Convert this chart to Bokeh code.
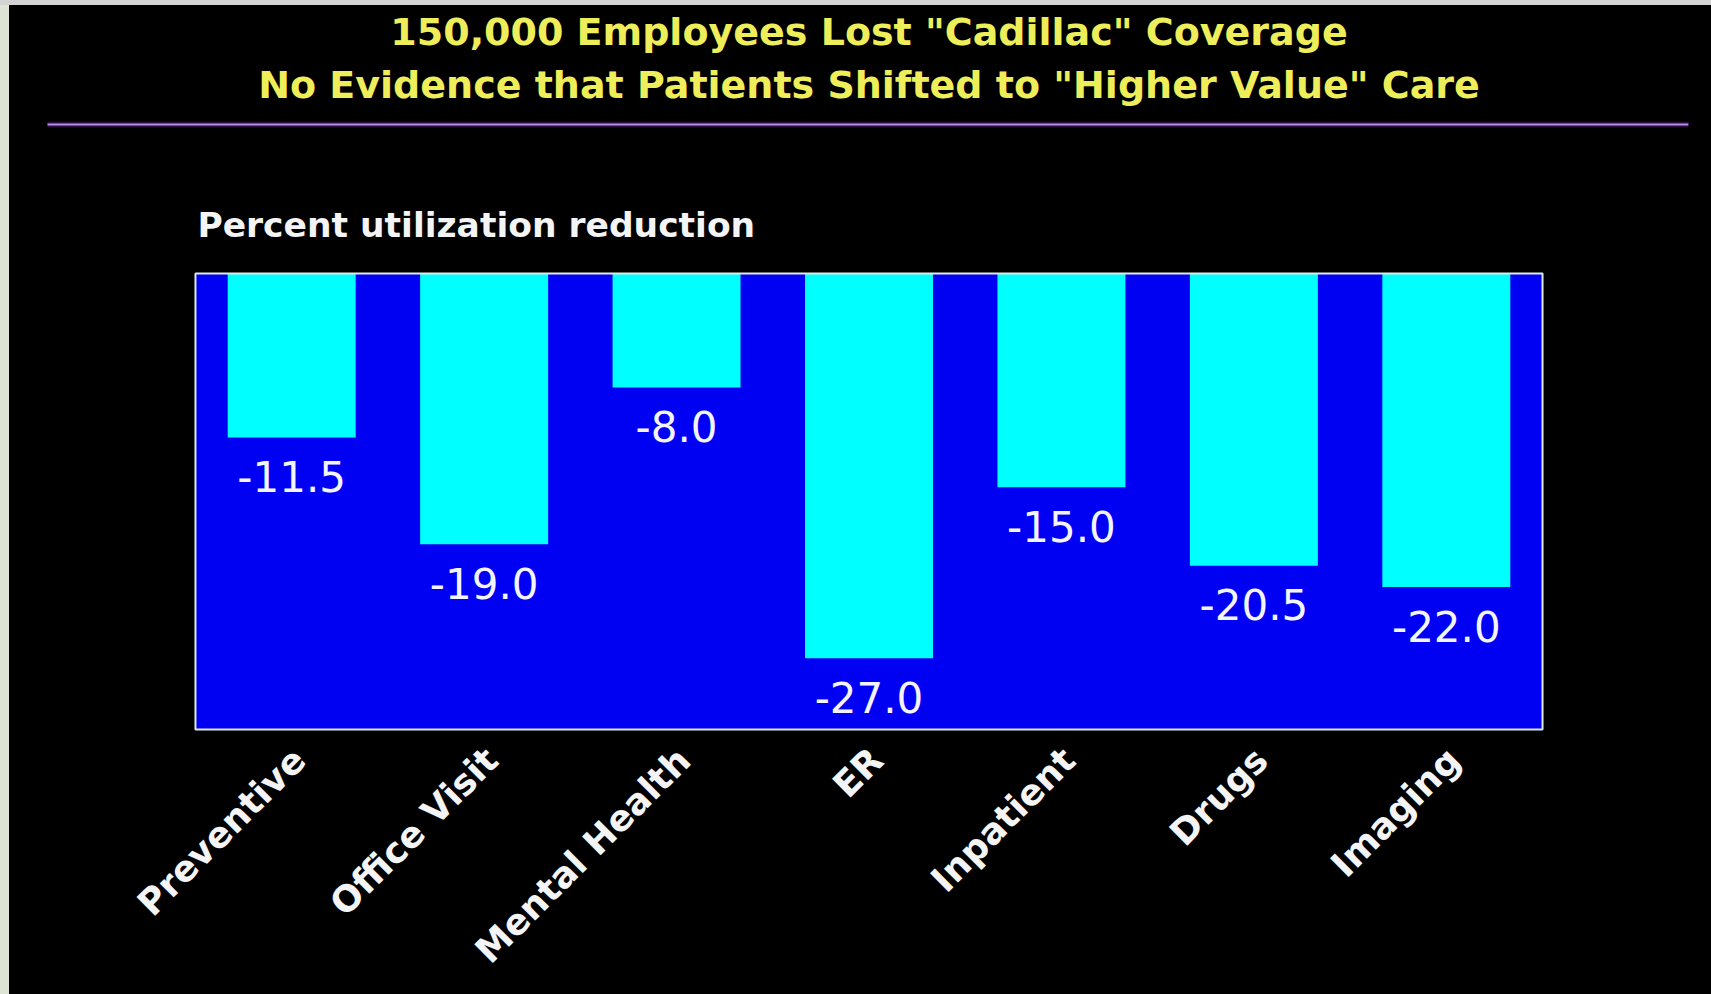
from math import pi
from bokeh.plotting import figure
from bokeh.models import FactorRange, Range1d
from bokeh.core.properties import value
from bokeh.embed import file_html
from bokeh.resources import INLINE

# ---- data ----
title_lines = ['150,000 Employees Lost "Cadillac" Coverage',
               'No Evidence that Patients Shifted to "Higher Value" Care']
subtitle = "Percent utilization reduction"
categories = ["Preventive", "Office Visit", "Mental Health", "ER",
              "Inpatient", "Drugs", "Imaging"]
reduction = [-11.5, -19.0, -8.0, -27.0, -15.0, -20.5, -22.0]
value_labels = [f"{v:.1f}" for v in reduction]
y_min, y_max = -32, 0

FONT = value("DejaVu Sans")
n = len(categories)

p = figure(width=1711, height=994,
           x_range=FactorRange(factors=categories, range_padding=0.878,
                               range_padding_units="absolute"),
           y_range=Range1d(-50.596, 19.158),
           output_backend="svg", toolbar_location=None,
           x_axis_location=None, y_axis_location=None,
           min_border_left=26, min_border_right=0,
           min_border_top=0, min_border_bottom=0)
p.background_fill_color = None
p.border_fill_color = None
p.outline_line_color = None
p.grid.visible = False
p.styles = {
    "background": "linear-gradient(to bottom, #d3d3d3 5px, transparent 5px), "
                  "linear-gradient(to right, #dde4d3 9px, #000000 9px)"
}

# blue plot box
p.quad(left=0, right=n, bottom=y_min, top=y_max,
       fill_color="#0000f2", line_color=None)

# bars
p.vbar(x=categories, top=0, bottom=reduction, width=0.665,
       fill_color="#00ffff", line_color=None)

# box outline
p.quad(left=0, right=n, bottom=y_min, top=y_max,
       fill_color=None, line_color="#dfe8e4", line_width=2)

# value labels
p.text(x=categories, y=reduction, text=value_labels,
       text_align="center", text_baseline="alphabetic", y_offset=39,
       text_font=FONT, text_font_size="42px", text_color="#f4f4ff")

# category labels (rotated, below the box)
p.text(x=categories, y=[y_min] * n, text=categories, angle=pi / 4,
       text_align="right", text_baseline="top", x_offset=-7, y_offset=10,
       text_font=FONT, text_font_style="bold", text_font_size="36px",
       text_color="#f4f4f4")

# titles
p.text(x=[n / 2, n / 2], y=[16.98, 13.26], text=title_lines,
       text_align="center", text_baseline="alphabetic",
       text_font=FONT, text_font_style="bold", text_font_size="38px",
       text_color="#eeee5a")

# purple rule
p.segment(x0=-0.769, x1=n + 0.758, y0=10.456, y1=10.456,
          line_color="#2a0c3c", line_width=6)
p.segment(x0=-0.769, x1=n + 0.758, y0=10.456, y1=10.456,
          line_color="#b48ee0", line_width=2)

# subtitle
p.text(x=[0.01], y=[3.37], text=[subtitle],
       text_align="left", text_baseline="alphabetic",
       text_font=FONT, text_font_style="bold", text_font_size="34.5px",
       text_color="#f4f4f4")

open("out.html", "w").write(file_html(p, INLINE))
